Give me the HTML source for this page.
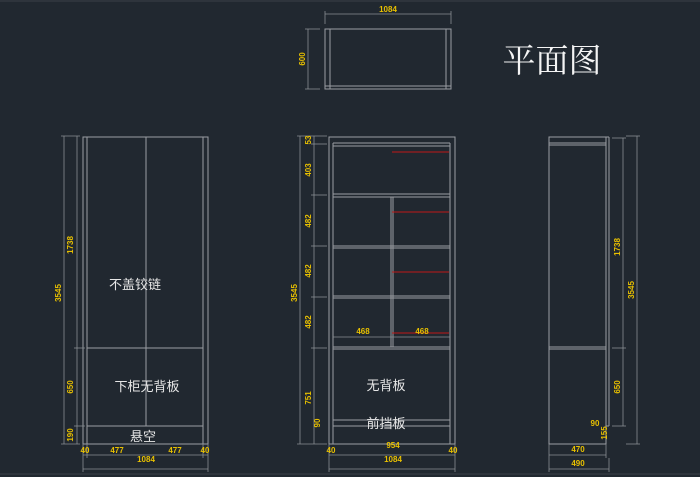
<!DOCTYPE html>
<html><head><meta charset="utf-8"><style>
html,body{margin:0;padding:0;background:#212830;}
svg{display:block}
.l{stroke:#9a9ea3;stroke-width:1;fill:none}
.d{stroke:#8a8e93;stroke-width:0.8;fill:none}
.r{stroke:#c01818;stroke-width:1}
.y{fill:#e8c000;font-family:"Liberation Sans Narrow","Liberation Sans",sans-serif;font-size:8px;font-weight:bold}
.c{fill:#e6e6e6;font-family:"Liberation Sans","Noto Sans CJK SC",sans-serif;font-size:13px}
</style></head><body>
<svg width="700" height="477" viewBox="0 0 700 477" xmlns="http://www.w3.org/2000/svg">
<line x1="0" y1="1" x2="700" y2="1" stroke="#3a4048"/>
<line x1="0" y1="474" x2="700" y2="474" stroke="#3a4048"/>
<!-- Plan -->
<rect class="l" x="325" y="29" width="126" height="60"/>
<line class="l" x1="330" y1="29" x2="330" y2="89"/><line class="l" x1="446" y1="29" x2="446" y2="89"/>
<line class="l" x1="325" y1="86" x2="451" y2="86"/>
<line class="d" x1="325" y1="14" x2="451" y2="14"/><line class="d" x1="325" y1="11" x2="325" y2="24"/><line class="d" x1="451" y1="11" x2="451" y2="24"/>
<text class="y" x="388" y="12" text-anchor="middle">1084</text>
<line class="d" x1="308" y1="29" x2="308" y2="89"/><line class="d" x1="305" y1="29" x2="320" y2="29"/><line class="d" x1="305" y1="89" x2="320" y2="89"/>
<text class="y" transform="translate(305,59) rotate(-90)" text-anchor="middle">600</text>
<text x="552" y="72" text-anchor="middle" fill="#f4f4f4" font-family="'Noto Serif CJK SC',serif" font-size="33">平面图</text>

<!-- Left elevation -->
<rect class="l" x="83" y="137" width="125" height="307"/>
<line class="l" x1="87" y1="137" x2="87" y2="444"/><line class="l" x1="203" y1="137" x2="203" y2="444"/>
<line class="l" x1="146" y1="137" x2="146" y2="426"/>
<line class="l" x1="87" y1="348" x2="203" y2="348"/><line class="l" x1="87" y1="426" x2="203" y2="426"/>
<text class="c" x="135" y="289" text-anchor="middle">不盖铰链</text>
<text class="c" x="147" y="391" text-anchor="middle">下柜无背板</text>
<text class="c" x="143" y="441" text-anchor="middle">悬空</text>
<line class="d" x1="64" y1="136" x2="64" y2="444"/><line class="d" x1="61" y1="136" x2="80" y2="136"/><line class="d" x1="61" y1="444" x2="80" y2="444"/>
<line class="d" x1="77" y1="136" x2="77" y2="444"/>
<line class="d" x1="74" y1="348" x2="85" y2="348"/><line class="d" x1="74" y1="426" x2="85" y2="426"/>
<text class="y" transform="translate(61,293) rotate(-90)" text-anchor="middle">3545</text>
<text class="y" transform="translate(73,245) rotate(-90)" text-anchor="middle">1738</text>
<text class="y" transform="translate(73,387) rotate(-90)" text-anchor="middle">650</text>
<text class="y" transform="translate(73,435) rotate(-90)" text-anchor="middle">190</text>
<line class="d" x1="83" y1="455" x2="208" y2="455"/><line class="d" x1="83" y1="469" x2="208" y2="469"/>
<line class="d" x1="83" y1="444" x2="83" y2="472"/><line class="d" x1="208" y1="444" x2="208" y2="472"/>
<line class="d" x1="87" y1="444" x2="87" y2="458"/><line class="d" x1="203" y1="444" x2="203" y2="458"/>
<text class="y" x="85" y="453" text-anchor="middle">40</text>
<text class="y" x="117" y="453" text-anchor="middle">477</text>
<text class="y" x="175" y="453" text-anchor="middle">477</text>
<text class="y" x="205" y="453" text-anchor="middle">40</text>
<text class="y" x="146" y="462" text-anchor="middle">1084</text>

<!-- Middle elevation -->
<rect class="l" x="329" y="137" width="126" height="307"/>
<line class="l" x1="333" y1="143" x2="333" y2="444"/><line class="l" x1="450" y1="143" x2="450" y2="444"/>
<line class="l" x1="333" y1="143" x2="450" y2="143"/><line class="l" x1="333" y1="146" x2="450" y2="146"/>
<line class="l" x1="333" y1="194" x2="450" y2="194"/><line class="l" x1="333" y1="197" x2="450" y2="197"/>
<line class="l" x1="333" y1="246" x2="450" y2="246"/><line class="l" x1="333" y1="248" x2="450" y2="248"/>
<line class="l" x1="333" y1="296" x2="450" y2="296"/><line class="l" x1="333" y1="298" x2="450" y2="298"/>
<line class="l" x1="333" y1="347" x2="450" y2="347"/><line class="l" x1="333" y1="349" x2="450" y2="349"/>
<line class="l" x1="391" y1="197" x2="391" y2="347"/><line class="l" x1="393" y1="197" x2="393" y2="347"/>
<line class="r" x1="392" y1="152" x2="449" y2="152"/><line class="r" x1="392" y1="212" x2="449" y2="212"/>
<line class="r" x1="392" y1="272" x2="449" y2="272"/><line class="r" x1="392" y1="333" x2="449" y2="333"/>
<line class="d" x1="333" y1="337" x2="450" y2="337"/>
<text class="y" x="363" y="334" text-anchor="middle">468</text>
<text class="y" x="422" y="334" text-anchor="middle">468</text>
<line class="l" x1="333" y1="420" x2="450" y2="420"/><line class="l" x1="333" y1="426" x2="450" y2="426"/>
<text class="c" x="386" y="390" text-anchor="middle">无背板</text>
<text class="c" x="386" y="428" text-anchor="middle">前挡板</text>
<line class="d" x1="300" y1="136" x2="300" y2="444"/><line class="d" x1="297" y1="136" x2="327" y2="136"/><line class="d" x1="297" y1="444" x2="327" y2="444"/>
<line class="d" x1="314" y1="136" x2="314" y2="444"/>
<line class="d" x1="311" y1="144" x2="327" y2="144"/><line class="d" x1="311" y1="195" x2="327" y2="195"/>
<line class="d" x1="311" y1="246" x2="327" y2="246"/><line class="d" x1="311" y1="297" x2="327" y2="297"/>
<line class="d" x1="311" y1="348" x2="327" y2="348"/>
<text class="y" transform="translate(297,293) rotate(-90)" text-anchor="middle">3545</text>
<text class="y" transform="translate(311,140) rotate(-90)" text-anchor="middle">53</text>
<text class="y" transform="translate(311,170) rotate(-90)" text-anchor="middle">403</text>
<text class="y" transform="translate(311,221) rotate(-90)" text-anchor="middle">482</text>
<text class="y" transform="translate(311,271) rotate(-90)" text-anchor="middle">482</text>
<text class="y" transform="translate(311,322) rotate(-90)" text-anchor="middle">482</text>
<text class="y" transform="translate(311,398) rotate(-90)" text-anchor="middle">751</text>
<text class="y" transform="translate(320,423) rotate(-90)" text-anchor="middle">90</text>
<line class="d" x1="329" y1="455" x2="455" y2="455"/><line class="d" x1="329" y1="469" x2="455" y2="469"/>
<line class="d" x1="329" y1="444" x2="329" y2="472"/><line class="d" x1="455" y1="444" x2="455" y2="472"/>
<text class="y" x="393" y="448" text-anchor="middle">954</text>
<text class="y" x="331" y="453" text-anchor="middle">40</text>
<text class="y" x="453" y="453" text-anchor="middle">40</text>
<text class="y" x="393" y="462" text-anchor="middle">1084</text>

<!-- Right elevation -->
<rect class="l" x="549" y="137" width="57" height="307"/>
<line class="l" x1="609" y1="137" x2="609" y2="426"/><line class="l" x1="606" y1="137" x2="609" y2="137"/>
<line class="l" x1="606" y1="426" x2="609" y2="426"/>
<line class="l" x1="549" y1="143" x2="606" y2="143"/><line class="l" x1="549" y1="145" x2="606" y2="145"/>
<line class="l" x1="549" y1="347" x2="606" y2="347"/><line class="l" x1="549" y1="349" x2="606" y2="349"/>
<line class="d" x1="623" y1="138" x2="623" y2="426"/><line class="d" x1="612" y1="138" x2="626" y2="138"/>
<line class="d" x1="612" y1="348" x2="626" y2="348"/><line class="d" x1="612" y1="426" x2="626" y2="426"/>
<line class="d" x1="637" y1="136" x2="637" y2="444"/><line class="d" x1="626" y1="136" x2="640" y2="136"/><line class="d" x1="626" y1="444" x2="640" y2="444"/>
<text class="y" transform="translate(620,247) rotate(-90)" text-anchor="middle">1738</text>
<text class="y" transform="translate(634,290) rotate(-90)" text-anchor="middle">3545</text>
<text class="y" transform="translate(620,387) rotate(-90)" text-anchor="middle">650</text>
<text class="y" x="595" y="426" text-anchor="middle">90</text>
<text class="y" transform="translate(607,433) rotate(-90)" text-anchor="middle">155</text>
<line class="d" x1="549" y1="455" x2="606" y2="455"/><line class="d" x1="549" y1="469" x2="609" y2="469"/>
<line class="d" x1="549" y1="444" x2="549" y2="472"/><line class="d" x1="606" y1="444" x2="606" y2="458"/>
<line class="d" x1="609" y1="458" x2="609" y2="472"/>
<text class="y" x="578" y="452" text-anchor="middle">470</text>
<text class="y" x="578" y="466" text-anchor="middle">490</text>
</svg>
</body></html>
